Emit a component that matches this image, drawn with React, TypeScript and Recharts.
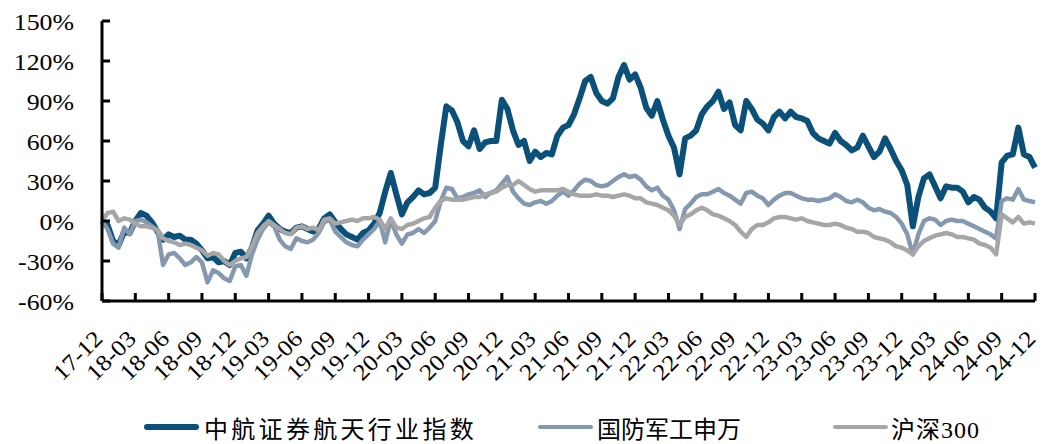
import React from 'react';
import { LineChart, Line, XAxis, YAxis } from 'recharts';

// Quarter-end tick labels (year-month), one every six half-month steps
const quarterLabels = [
  '17-12', '18-03', '18-06', '18-09', '18-12', '19-03', '19-06', '19-09',
  '19-12', '20-03', '20-06', '20-09', '20-12', '21-03', '21-06', '21-09',
  '21-12', '22-03', '22-06', '22-09', '22-12', '23-03', '23-06', '23-09',
  '23-12', '24-03', '24-06', '24-09', '24-12',
];

const seriesNames = ['中航证券航天行业指数', '国防军工申万', '沪深300'];

// Cumulative return (%), sampled twice a month from 2017-12 to 2024-12
const aerospaceIndex = [
  0, -3, -15, -18, -8, -9, 0, 6, 4, -1, -8, -14,
  -10, -12, -11, -14, -14, -17, -22, -28, -27, -31, -30, -33,
  -24, -23, -28, -20, -7, -2, 4, -2, -6, -8, -9, -5,
  -4, -6, -8, -6, 2, 5, -1, -6, -10, -12, -14, -9,
  -7, -2, 6, 22, 36, 20, 5, 14, 18, 23, 20, 21,
  25, 57, 86, 83, 74, 60, 56, 68, 54, 59, 60, 60,
  91, 84, 68, 57, 60, 45, 52, 48, 51, 50, 64, 70,
  72, 80, 92, 105, 108, 96, 90, 88, 92, 108, 117, 106,
  110, 100, 85, 79, 90, 76, 64, 55, 35, 62, 64, 68,
  80, 86, 90, 97, 84, 89, 72, 68, 90, 84, 76, 73,
  68, 78, 82, 77, 82, 78, 77, 75, 66, 62, 60, 58,
  66, 60, 57, 53, 55, 64, 56, 48, 52, 62, 54, 45,
  38, 27, -4, 18, 32, 35, 26, 17, 26, 25, 25, 22,
  14, 18, 16, 10, 7, 2, 44, 49, 50, 70, 50, 48,
  40,
];

const defenseIndex = [
  0, -6, -17, -20, -5, -10, 0, 1, -1, -4, -7, -33,
  -25, -24, -28, -33, -31, -27, -31, -46, -37, -39, -43, -45,
  -34, -33, -41, -25, -14, -6, -1, -4, -14, -19, -21, -13,
  -15, -16, -14, -9, -1, 1, -8, -12, -16, -18, -19, -14,
  -10, -6, 0, -16, 1, -10, -17, -10, -9, -6, -9, -5,
  0, 15, 25, 24, 17, 18, 20, 21, 23, 18, 21, 23,
  28, 33, 22, 17, 13, 12, 14, 15, 13, 15, 19, 22,
  19, 23, 28, 31, 30, 27, 26, 27, 30, 33, 35, 33,
  34, 31, 26, 23, 25, 19, 16, 8, -6, 9, 13, 18,
  20, 20, 22, 24, 21, 19, 16, 13, 21, 22, 19, 17,
  12, 16, 19, 21, 21, 19, 17, 16, 16, 15, 16, 17,
  20, 18, 15, 14, 16, 14, 10, 8, 9, 7, 6, 3,
  -2, -10, -25, -10, 0, 2, 1, -3, 0, 1, 0, 0,
  -2, -4, -6, -8, -10, -13, 15, 17, 16, 24, 16, 15,
  14,
];

const csi300 = [
  0, 6, 7, 0, 2, 1, -2, -4, -4, -5, -7, -13,
  -15, -16, -18, -17, -18, -20, -22, -26, -24, -25, -30, -33,
  -30, -28, -27, -19, -9, -4, 0, -3, -6, -9, -10, -5,
  -4, -6, -5, -7, 1, 2, -2, -1, 0, 1, 0, 2,
  2, 3, 1, -6, 2, -5, -6, -3, -2, 0, 2, 3,
  10, 15, 17, 16, 16, 16, 17, 18, 18, 20, 21, 22,
  25, 27, 27, 30, 27, 24, 22, 23, 23, 23, 23, 24,
  22, 20, 19, 19, 19, 20, 19, 19, 18, 19, 20, 19,
  17, 17, 14, 13, 12, 10, 8, 4, -3, 3, 5, 8,
  10, 8, 5, 4, 2, 0, -3, -8, -12, -6, -3, -3,
  -1, 2, 3, 3, 2, 1, 2, 0, -1, -2, -3, -3,
  -2, -3, -5, -6, -8, -8, -9, -12, -13, -14, -16, -19,
  -20, -22, -25, -19, -15, -13, -11, -10, -9, -10, -12, -12,
  -13, -14, -17, -18, -20, -25, 5, 2, -1, 3, -2, -1,
  -2,
];

const yTicks = [-60, -30, 0, 30, 60, 90, 120, 150];

const STEPS_PER_QUARTER = 6;
const COLORS = ['#0A5078', '#8498AF', '#A6A6A6'];
const WIDTHS = [6, 4.5, 4.5];
const LATIN_FONT = '"Liberation Serif", "Times New Roman", serif';
const LEGEND_FONT = '"Liberation Serif", "Noto Sans CJK SC", sans-serif';

const data = aerospaceIndex.map((v, i) => ({
  t: i,
  aero: v,
  defense: defenseIndex[i],
  csi: csi300[i],
}));

const xTicks = quarterLabels.map((_, i) => i * STEPS_PER_QUARTER);

const YTick = (props: any) => {
  const { x, y, payload } = props;
  return (
    <g>
      <line x1={x} x2={x + 8} y1={y} y2={y} stroke="#000" strokeWidth={3} />
      <text
        transform={`translate(${x - 28},${y + 9}) scale(1.1,1)`}
        textAnchor="end"
        fontFamily={LATIN_FONT}
        fontSize={23.5}
        fill="#000"
      >
        {`${payload.value}%`}
      </text>
    </g>
  );
};

const XTick = (props: any) => {
  const { x, y, payload } = props;
  const label = quarterLabels[Math.round(payload.value / STEPS_PER_QUARTER)];
  return (
    <g>
      <line x1={x} x2={x} y1={y} y2={y - 8} stroke="#000" strokeWidth={3} />
      <text
        transform={`translate(${x + 2},${y + 39}) rotate(-45) scale(1.1,1)`}
        textAnchor="end"
        fontFamily={LATIN_FONT}
        fontSize={23}
        fill="#000"
      >
        {label}
      </text>
    </g>
  );
};

const legendItems = [
  { name: seriesNames[0], color: COLORS[0], thick: 6, iconX: 144, textX: 204, spacing: 3.3 },
  { name: seriesNames[1], color: COLORS[1], thick: 4, iconX: 538, textX: 597, spacing: 0 },
  { name: seriesNames[2], color: COLORS[2], thick: 4, iconX: 833, textX: 891, spacing: 1 },
];

export default function App() {
  return (
    <div style={{ position: 'absolute', left: 0, top: 0, width: 1049, height: 444, background: '#fff' }}>
      <LineChart
        width={1049}
        height={444}
        data={data}
        margin={{ top: 21, right: 14, bottom: 0, left: 0 }}
      >
        <XAxis
          type="number"
          dataKey="t"
          domain={[0, aerospaceIndex.length - 1]}
          ticks={xTicks}
          interval={0}
          height={143}
          tickSize={0}
          tickMargin={0}
          axisLine={{ stroke: '#000', strokeWidth: 3 }}
          tickLine={false}
          tick={<XTick />}
        />
        <YAxis
          type="number"
          domain={[-60, 150]}
          ticks={yTicks}
          interval={0}
          width={102}
          tickSize={0}
          tickMargin={0}
          axisLine={{ stroke: '#000', strokeWidth: 3 }}
          tickLine={false}
          tick={<YTick />}
        />
        <Line
          dataKey="aero"
          name={seriesNames[0]}
          stroke={COLORS[0]}
          strokeWidth={WIDTHS[0]}
          strokeLinejoin="round"
          dot={false}
          type="linear"
          isAnimationActive={false}
        />
        <Line
          dataKey="defense"
          name={seriesNames[1]}
          stroke={COLORS[1]}
          strokeWidth={WIDTHS[1]}
          strokeLinejoin="round"
          dot={false}
          type="linear"
          isAnimationActive={false}
        />
        <Line
          dataKey="csi"
          name={seriesNames[2]}
          stroke={COLORS[2]}
          strokeWidth={WIDTHS[2]}
          strokeLinejoin="round"
          dot={false}
          type="linear"
          isAnimationActive={false}
        />
      </LineChart>
      {legendItems.map((item) => (
        <React.Fragment key={item.name}>
          <div
            style={{
              position: 'absolute',
              left: item.iconX,
              top: 427 - item.thick / 2,
              width: 55,
              height: item.thick,
              borderRadius: item.thick / 2,
              background: item.color,
            }}
          />
          <div
            style={{
              position: 'absolute',
              left: item.textX,
              top: 418,
              height: 24,
              lineHeight: '24px',
              fontFamily: LEGEND_FONT,
              fontSize: 24,
              letterSpacing: item.spacing,
              whiteSpace: 'nowrap',
              color: '#000',
            }}
          >
            {item.name}
          </div>
        </React.Fragment>
      ))}
    </div>
  );
}
